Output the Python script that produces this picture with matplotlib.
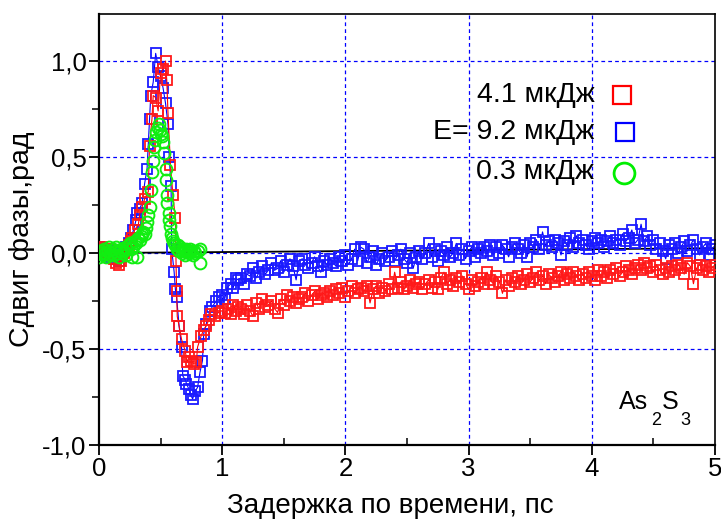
import numpy as np
import matplotlib
matplotlib.use("Agg")
import matplotlib.pyplot as plt
from matplotlib.ticker import MultipleLocator, FuncFormatter

plt.rcParams['font.family'] = ['Liberation Sans', 'DejaVu Sans']

# ---------------- data ----------------
labels = ["4.1 мкДж", "E= 9.2 мкДж", "0.3 мкДж"]

# peak region (blue, 9.2 uJ)
blue_px = [0.00, 0.02, 0.04, 0.06, 0.08, 0.10, 0.12, 0.14, 0.16, 0.18, 0.20, 0.22, 0.24, 0.26, 0.28,
           0.30, 0.31, 0.33, 0.35, 0.37, 0.39, 0.40, 0.41, 0.42, 0.44, 0.46, 0.48, 0.50, 0.52, 0.54,
           0.56, 0.57, 0.585, 0.59, 0.61, 0.62, 0.63, 0.65, 0.67, 0.68, 0.70, 0.71, 0.73, 0.745, 0.76,
           0.78, 0.80, 0.82, 0.84, 0.85, 0.87, 0.90, 0.92, 0.95, 0.97, 1.00, 1.02, 1.04, 1.07, 1.09,
           1.11, 1.13]
blue_py = [0.03, 0.02, 0.00, -0.01, 0.01, -0.02, 0.00, -0.03, -0.04, -0.02, 0.01, 0.03, 0.05, 0.08, 0.12,
           0.17, 0.21, 0.23, 0.26, 0.36, 0.44, 0.57, 0.70, 0.82, 0.89, 1.04, 0.97, 0.92, 0.86, 0.78,
           0.67, 0.50, 0.35, 0.02, -0.10, -0.19, -0.23, -0.38, -0.49, -0.64, -0.66, -0.68, -0.71, -0.74, -0.76,
           -0.72, -0.70, -0.62, -0.56, -0.42, -0.37, -0.30, -0.28, -0.25, -0.23, -0.22, -0.24, -0.18, -0.16, -0.18,
           -0.13, -0.14]

# peak region (red, 4.1 uJ)
red_px = [0.00, 0.02, 0.04, 0.06, 0.08, 0.10, 0.12, 0.14, 0.16, 0.18, 0.20, 0.22, 0.24, 0.26, 0.27,
          0.29, 0.32, 0.33, 0.35, 0.37, 0.40, 0.41, 0.43, 0.44, 0.46, 0.48, 0.50, 0.52, 0.54, 0.55,
          0.56, 0.58, 0.60, 0.62, 0.625, 0.63, 0.635, 0.65, 0.67, 0.70, 0.715, 0.73, 0.75, 0.77, 0.79,
          0.80, 0.83, 0.85, 0.87, 0.89, 0.91, 0.94, 0.97, 1.00, 1.02, 1.05, 1.07, 1.09, 1.11, 1.13]
red_py = [0.02, 0.03, 0.01, 0.00, 0.02, -0.01, -0.03, -0.05, -0.06, -0.04, 0.00, 0.02, 0.04, 0.06, 0.08,
          0.12, 0.15, 0.20, 0.24, 0.28, 0.32, 0.56, 0.70, 0.82, 0.81, 0.74, 0.94, 0.96, 1.00, 0.90,
          0.73, 0.46, 0.30, 0.18, -0.04, -0.20, -0.33, -0.38, -0.45, -0.51, -0.57, -0.54, -0.56, -0.58, -0.57,
          -0.49, -0.43, -0.40, -0.38, -0.35, -0.32, -0.33, -0.31, -0.30, -0.31, -0.29, -0.32, -0.27, -0.30, -0.28]

# green, 0.3 uJ
green_x = [0.00, 0.01, 0.02, 0.03, 0.04, 0.05, 0.06, 0.07, 0.08, 0.09, 0.10, 0.11, 0.12, 0.13, 0.14,
           0.15, 0.16, 0.17, 0.18, 0.19, 0.20, 0.21, 0.22, 0.23, 0.24, 0.25, 0.26, 0.27, 0.28, 0.29,
           0.30, 0.31, 0.32, 0.33, 0.34, 0.35, 0.36, 0.37, 0.38, 0.39, 0.40, 0.41, 0.42, 0.43, 0.44,
           0.45, 0.455, 0.465, 0.475, 0.485, 0.495, 0.50, 0.51, 0.52, 0.53, 0.54, 0.545, 0.55, 0.555, 0.565,
           0.57, 0.575, 0.585, 0.59, 0.60, 0.61, 0.62, 0.63, 0.64, 0.65, 0.66, 0.67, 0.68, 0.69, 0.70,
           0.71, 0.72, 0.73, 0.74, 0.75, 0.76, 0.77, 0.78, 0.80, 0.82, 0.82]
green_y = [-0.02, 0.01, 0.00, -0.01, 0.02, 0.00, -0.02, 0.01, 0.03, -0.01, 0.00, 0.02, -0.01, 0.01, 0.03,
           0.00, -0.02, 0.01, 0.02, 0.00, 0.01, 0.03, -0.01, 0.02, 0.04, 0.05, 0.02, -0.02, 0.03, 0.06,
           0.05, -0.02, 0.08, 0.07, 0.09, 0.10, 0.11, 0.10, 0.13, 0.16, 0.20, 0.24, 0.33, 0.42, 0.48,
           0.55, 0.59, 0.63, 0.65, 0.67, 0.64, 0.62, 0.61, 0.58, 0.52, 0.44, 0.38, 0.30, 0.26, 0.21,
           0.17, 0.14, 0.10, 0.08, 0.06, 0.05, 0.04, 0.02, 0.04, 0.01, 0.03, 0.00, 0.02, 0.01, -0.01,
           0.02, 0.01, 0.00, 0.02, 0.01, -0.01, 0.01, 0.00, 0.01, 0.02, -0.05]

# slow tail, time grid 1.15 ... 5.0 ps (step 0.025 ps)
tail_t = np.linspace(1.15, 5.0, 155)
blue_tail = [-0.13, -0.16, -0.11, -0.12, -0.08, -0.13, -0.10, -0.07, -0.11, -0.09,
             -0.05, -0.09, -0.08, -0.04, -0.10, -0.06, -0.03, -0.07, -0.14, -0.04,
             -0.03, -0.06, -0.08, -0.05, -0.02, -0.07, -0.10, -0.04, -0.06, -0.03,
             -0.05, -0.07, -0.02, -0.04, -0.01, -0.06, -0.03, 0.02, -0.04, 0.03,
             0.02, -0.05, -0.02, 0.01, -0.06, -0.03, 0.00, -0.04, -0.02, 0.01,
             -0.04, -0.01, 0.02, -0.03, -0.05, 0.00, -0.08, -0.02, 0.01, -0.03,
             0.00, 0.05, -0.02, 0.02, -0.04, 0.01, -0.01, 0.03, -0.02, 0.00,
             0.05, -0.01, 0.02, -0.03, 0.01, 0.03, -0.02, 0.02, 0.00, 0.03,
             0.01, 0.04, -0.01, 0.03, 0.00, 0.04, 0.02, -0.02, 0.03, 0.05,
             0.02, 0.00, 0.04, -0.02, 0.05, 0.03, 0.07, 0.02, 0.11, 0.04,
             0.06, 0.03, 0.07, 0.05, -0.01, 0.06, 0.04, 0.08, 0.03, 0.09,
             0.05, 0.07, 0.04, 0.02, 0.06, 0.08, 0.05, 0.07, 0.03, 0.06,
             0.09, 0.05, 0.07, 0.04, 0.10, 0.06, 0.08, 0.12, 0.05, 0.07,
             0.15, 0.06, 0.09, 0.04, 0.07, 0.02, 0.05, 0.01, -0.03, 0.04,
             0.02, 0.05, 0.00, 0.03, 0.06, 0.01, 0.04, 0.07, 0.02, -0.01,
             0.03, 0.05, -0.01, 0.02, 0.04]
red_tail = [-0.29, -0.32, -0.27, -0.30, -0.33, -0.26, -0.29, -0.24, -0.28, -0.27,
            -0.25, -0.29, -0.31, -0.24, -0.27, -0.22, -0.25, -0.23, -0.26, -0.24,
            -0.23, -0.21, -0.25, -0.22, -0.20, -0.24, -0.22, -0.21, -0.23, -0.20,
            -0.22, -0.19, -0.21, -0.18, -0.23, -0.20, -0.17, -0.21, -0.19, -0.18,
            -0.20, -0.17, -0.26, -0.19, -0.17, -0.21, -0.18, -0.20, -0.16, -0.19,
            -0.10, -0.18, -0.15, -0.19, -0.17, -0.14, -0.18, -0.16, -0.15, -0.19,
            -0.16, -0.14, -0.18, -0.15, -0.19, -0.13, -0.10, -0.16, -0.14, -0.17,
            -0.13, -0.15, -0.12, -0.16, -0.19, -0.14, -0.17, -0.15, -0.13, -0.16,
            -0.10, -0.14, -0.16, -0.12, -0.15, -0.21, -0.14, -0.17, -0.13, -0.15,
            -0.12, -0.16, -0.14, -0.11, -0.15, -0.13, -0.10, -0.14, -0.12, -0.16,
            -0.11, -0.13, -0.15, -0.12, -0.10, -0.14, -0.11, -0.13, -0.10, -0.12,
            -0.14, -0.11, -0.13, -0.10, -0.12, -0.14, -0.09, -0.12, -0.10, -0.13,
            -0.09, -0.11, -0.08, -0.12, -0.10, -0.07, -0.09, -0.11, -0.08, -0.06,
            -0.09, -0.05, -0.08, -0.07, -0.10, -0.06, -0.09, -0.11, -0.08, -0.10,
            -0.07, -0.09, -0.06, -0.08, -0.11, -0.05, -0.07, -0.16, -0.08, -0.06,
            -0.09, -0.07, -0.10, -0.08, -0.06]

baseline_x = [0.0, 5.0]
baseline_y = [0.0, 0.025]

x_ticks = [0, 1, 2, 3, 4, 5]
y_ticks = [-1.0, -0.5, 0.0, 0.5, 1.0]

# ---------------- figure ----------------
W, H = 721, 521
fig = plt.figure(figsize=(W / 100, H / 100), dpi=100)
ax = fig.add_axes([99 / W, 1 - 445 / H, 616 / W, 431 / H])

grid_kw = dict(color='#0000ff', lw=0.9, ls=(0, (3, 2.5)), zorder=0)
for gx in [1, 2, 3, 4]:
    ax.axvline(gx, **grid_kw)
for gy in [1.0, 0.5, 0.0, -0.5]:
    ax.axhline(gy, **grid_kw)

ax.plot(baseline_x, baseline_y, color='black', lw=1.3, zorder=1)

bx = list(blue_px) + list(tail_t)
by = list(blue_py) + list(blue_tail)
rx = list(red_px) + list(tail_t)
ry = list(red_py) + list(red_tail)

ms_sq = 7.3
ax.plot(bx, by, color='#0000ff', lw=0.8, marker='s', ms=ms_sq, mfc='none',
        mec='#1a1aff', mew=1.3, zorder=2)
ax.plot(rx, ry, color='#ff0000', lw=0.8, marker='s', ms=ms_sq, mfc='none',
        mec='#ff1a1a', mew=1.3, zorder=3)
ax.plot(green_x, green_y, ls='none', marker='o', ms=8.5, mfc='none',
        mec='#11ee11', mew=1.4, zorder=4)

ax.set_xlim(0, 5)
ax.set_ylim(-1.0, 1.245)

ax.set_xticks(x_ticks)
ax.set_yticks(y_ticks)
ax.xaxis.set_minor_locator(MultipleLocator(0.5))
ax.yaxis.set_minor_locator(MultipleLocator(0.25))
ax.yaxis.set_major_formatter(FuncFormatter(lambda v, p: f"{v:.1f}".replace('.', ',')))
ax.tick_params(axis='x', which='major', direction='out', length=7, width=1.3, labelsize=18.5, pad=2)
ax.tick_params(axis='x', which='minor', direction='in', length=5, width=1.1)
ax.tick_params(axis='y', which='major', direction='out', length=7, width=1.3, labelsize=18.5, pad=2)
ax.tick_params(axis='y', which='minor', direction='out', length=5, width=1.1)

ax.spines['left'].set_linewidth(1.6)
ax.spines['bottom'].set_linewidth(1.6)
ax.spines['top'].set_linewidth(1.2)
ax.spines['right'].set_linewidth(1.2)

# axis titles
fig.text(390 / W, 1 - 506 / H, "Задержка по времени, пс", fontsize=20,
         ha='center', va='center')
fig.text(22 / W, 1 - 239 / H, "Сдвиг фазы,рад", fontsize=20.5, rotation=90,
         ha='center', va='center')

# legend drawn by hand
tx = 0.804
fs_leg = 20.5
ax.text(tx, 0.812, labels[0], transform=ax.transAxes, ha='right', va='center', fontsize=fs_leg)
ax.text(tx, 0.726, labels[1], transform=ax.transAxes, ha='right', va='center', fontsize=fs_leg)
ax.text(tx, 0.633, labels[2], transform=ax.transAxes, ha='right', va='center', fontsize=fs_leg)
ax.plot([0.849], [0.812], transform=ax.transAxes, marker='s', ms=13, mfc='none',
        mec='#ff0000', mew=1.6, clip_on=False)
ax.plot([0.854], [0.726], transform=ax.transAxes, marker='s', ms=13, mfc='none',
        mec='#0000ff', mew=1.6, clip_on=False)
ax.plot([0.852], [0.631], transform=ax.transAxes, marker='o', ms=15, mfc='none',
        mec='#00ee00', mew=2.0, clip_on=False)

# As2S3 label with lowered subscripts
fig.text(619 / W, 1 - 409 / H, "As", fontsize=18, ha='left', va='baseline')
fig.text(651 / W, 1 - 425 / H, "2", fontsize=13, ha='left', va='baseline')
fig.text(662 / W, 1 - 409 / H, "S", fontsize=18, ha='left', va='baseline')
fig.text(680 / W, 1 - 425 / H, "3", fontsize=13, ha='left', va='baseline')

fig.savefig("out.png", dpi=100)
